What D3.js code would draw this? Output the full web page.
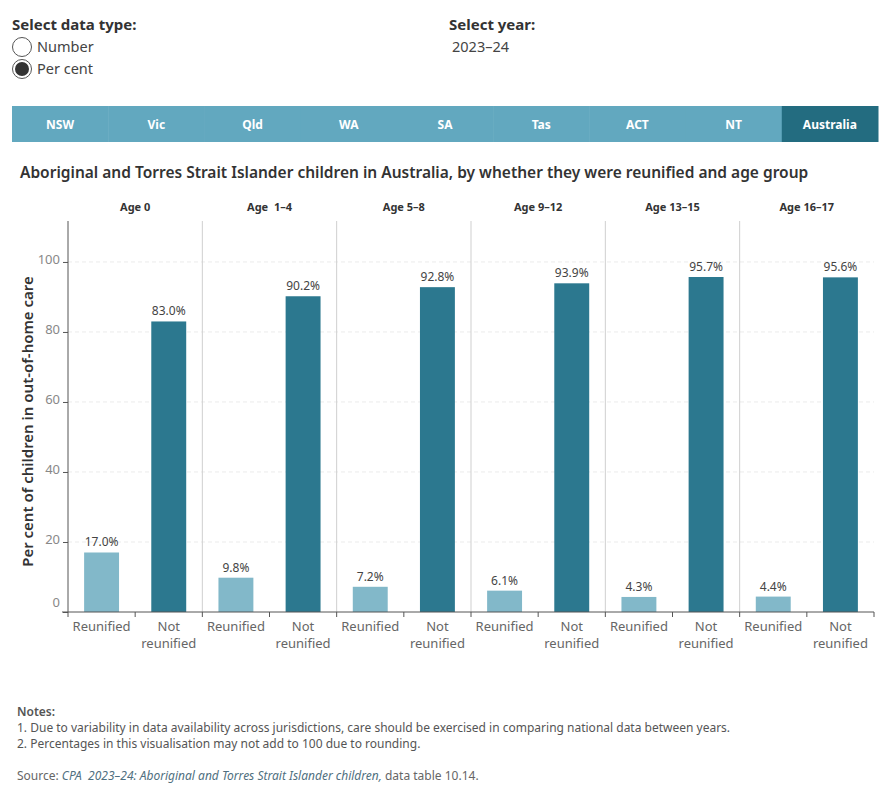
<!DOCTYPE html>
<html>
<head>
<meta charset="utf-8">
<script src="https://cdn.jsdelivr.net/npm/d3@7"></script>
<style>
  body { margin: 0; background: #fff; font-family: "Noto Sans", sans-serif; }
  svg text { font-family: "Noto Sans", sans-serif; }
</style>
</head>
<body>
<script>
// chart data
var ageGroups = ["Age 0", "Age  1\u20134", "Age 5\u20138", "Age 9\u201312", "Age 13\u201315", "Age 16\u201317"];
var statuses = ["Reunified", "Not reunified"];
var reunified = [17.0, 9.8, 7.2, 6.1, 4.3, 4.4];
var notReunified = [83.0, 90.2, 92.8, 93.9, 95.7, 95.6];
var yTicks = [0, 20, 40, 60, 80, 100];
var tabs = ["NSW", "Vic", "Qld", "WA", "SA", "Tas", "ACT", "NT", "Australia"];
var notes = [
  "1. Due to variability in data availability across jurisdictions, care should be exercised in comparing national data between years.",
  "2. Percentages in this visualisation may not add to 100 due to rounding."
];

var W = 890, H = 800;
var svg = d3.select("body").append("svg")
    .attr("width", W)
    .attr("height", H);

// controls at the top
svg.append("text").attr("x", 12).attr("y", 30)
  .attr("font-size", 15).attr("font-weight", 700).attr("fill", "#333")
  .text("Select data type:");
var radios = [{label: "Number", on: false}, {label: "Per cent", on: true}];
radios.forEach(function(r, i) {
  var cy = 47 + i * 22;
  svg.append("circle").attr("cx", 22).attr("cy", cy).attr("r", 9.5)
    .attr("fill", "#fff").attr("stroke", "#555").attr("stroke-width", 1);
  if (r.on) {
    svg.append("circle").attr("cx", 22).attr("cy", cy).attr("r", 7)
      .attr("fill", "#333");
  }
  svg.append("text").attr("x", 37).attr("y", cy + 5)
    .attr("font-size", 14.5).attr("fill", "#444").text(r.label);
});
svg.append("text").attr("x", 449).attr("y", 30)
  .attr("font-size", 15).attr("font-weight", 700).attr("fill", "#333")
  .text("Select year:");
svg.append("text").attr("x", 452).attr("y", 52)
  .attr("font-size", 14.5).attr("fill", "#444").text("2023\u201324");

// state tabs
var tabX = d3.scaleBand().domain(tabs).range([12, 878]);
var tab = svg.selectAll(".tab").data(tabs).enter().append("g")
  .attr("class", "tab")
  .attr("transform", function(d) { return "translate(" + tabX(d) + ",106)"; });
tab.append("rect")
  .attr("width", tabX.bandwidth() + 0.5)
  .attr("height", 36)
  .attr("fill", function(d) { return d === "Australia" ? "#236c80" : "#62a8bf"; });
tab.append("text")
  .attr("x", tabX.bandwidth() / 2).attr("y", 23)
  .attr("text-anchor", "middle")
  .attr("font-size", 12).attr("font-weight", 700).attr("fill", "#fff")
  .text(function(d) { return d; });

// title
svg.append("text").attr("x", 20).attr("y", 178)
  .attr("font-size", 15.5).attr("font-weight", 600).attr("fill", "#333")
  .text("Aboriginal and Torres Strait Islander children in Australia, by whether they were reunified and age group");

// plot area
var plotLeft = 68, plotRight = 874, plotTop = 221, plotBottom = 612;
var x0 = d3.scaleBand().domain(ageGroups).range([plotLeft, plotRight]);
var x1 = d3.scaleBand().domain(statuses).range([0, x0.bandwidth()]).paddingInner(0.48).paddingOuter(0.24);
var y = d3.scaleLinear().domain([0, 111.7]).range([plotBottom, plotTop]);

var data = [];
ageGroups.forEach(function(a, i) {
  data.push({age: a, status: "Reunified", value: reunified[i]});
  data.push({age: a, status: "Not reunified", value: notReunified[i]});
});

// gridlines
svg.append("g").selectAll("line").data(yTicks.filter(function(t) { return t > 0; })).enter()
  .append("line")
  .attr("x1", plotLeft).attr("x2", plotRight)
  .attr("y1", function(d) { return y(d); }).attr("y2", function(d) { return y(d); })
  .attr("stroke", "#ebebeb").attr("stroke-dasharray", "4,3");

// panel separators
svg.append("g").selectAll("line").data(ageGroups.slice(1)).enter()
  .append("line")
  .attr("x1", function(d) { return x0(d); }).attr("x2", function(d) { return x0(d); })
  .attr("y1", plotTop).attr("y2", plotBottom)
  .attr("stroke", "#cfcfcf");

// panel headers
svg.append("g").selectAll("text").data(ageGroups).enter()
  .append("text")
  .attr("x", function(d) { return x0(d) + x0.bandwidth() / 2; })
  .attr("y", 211)
  .attr("text-anchor", "middle")
  .attr("font-size", 11).attr("font-weight", 700).attr("fill", "#333")
  .style("white-space", "pre")
  .text(function(d) { return d; });

// bars
svg.append("g").selectAll("rect").data(data).enter()
  .append("rect")
  .attr("x", function(d) { return x0(d.age) + x1(d.status); })
  .attr("width", x1.bandwidth())
  .attr("y", function(d) { return y(d.value); })
  .attr("height", function(d) { return plotBottom - y(d.value); })
  .attr("fill", function(d) { return d.status === "Reunified" ? "#82b8c9" : "#2c788f"; });

// value labels
svg.append("g").selectAll("text").data(data).enter()
  .append("text")
  .attr("x", function(d) { return x0(d.age) + x1(d.status) + x1.bandwidth() / 2; })
  .attr("y", function(d) { return y(d.value) - 6; })
  .attr("text-anchor", "middle")
  .attr("font-size", 12).attr("fill", "#444")
  .text(function(d) { return d.value.toFixed(1) + "%"; });

// y axis
var yAxis = svg.append("g")
  .attr("transform", "translate(" + plotLeft + ",0)")
  .call(d3.axisLeft(y).tickValues(yTicks).tickSize(5).tickSizeOuter(0));
yAxis.select(".domain").attr("stroke", "#555").attr("d", "M0," + plotTop + "V" + plotBottom);
yAxis.selectAll(".tick line").attr("stroke", "#555");
yAxis.selectAll(".tick text").attr("font-size", 13).attr("fill", "#888")
  .attr("font-family", "'Noto Sans', sans-serif")
  .attr("dy", function(d) { return d === 0 ? "-0.4em" : "0.1em"; });

svg.append("text")
  .attr("transform", "translate(33," + ((plotTop + plotBottom) / 2 + 5) + ") rotate(-90)")
  .attr("text-anchor", "middle")
  .attr("font-size", 15).attr("font-weight", 600).attr("fill", "#333")
  .text("Per cent of children in out-of-home care");

// x axis
svg.append("line")
  .attr("x1", plotLeft - 6).attr("x2", plotRight).attr("y1", plotBottom).attr("y2", plotBottom)
  .attr("stroke", "#555");
var tickPos = [];
ageGroups.forEach(function(a) {
  tickPos.push(x0(a));
  tickPos.push(x0(a) + x0.bandwidth() / 2);
});
tickPos.push(plotRight);
svg.append("g").selectAll("line").data(tickPos).enter()
  .append("line")
  .attr("x1", function(d) { return d; }).attr("x2", function(d) { return d; })
  .attr("y1", plotBottom).attr("y2", plotBottom + 5)
  .attr("stroke", "#555");

var xl = svg.append("g").selectAll("text").data(data).enter()
  .append("text")
  .attr("x", function(d) { return x0(d.age) + x1(d.status) + x1.bandwidth() / 2; })
  .attr("y", 631)
  .attr("text-anchor", "middle")
  .attr("font-size", 13).attr("fill", "#666");
xl.each(function(d) {
  var t = d3.select(this);
  if (d.status === "Reunified") {
    t.text("Reunified");
  } else {
    t.append("tspan").attr("x", t.attr("x")).attr("dy", 0).text("Not");
    t.append("tspan").attr("x", t.attr("x")).attr("dy", 17).text("reunified");
  }
});

// notes and source
svg.append("text").attr("x", 17).attr("y", 716)
  .attr("font-size", 12).attr("font-weight", 600).attr("fill", "#555").text("Notes:");
svg.selectAll(".note").data(notes).enter().append("text")
  .attr("class", "note")
  .attr("x", 17).attr("y", function(d, i) { return 732 + i * 16; })
  .attr("font-size", 12).attr("fill", "#555")
  .text(function(d) { return d; });
var src = svg.append("text").attr("x", 17).attr("y", 780)
  .attr("font-size", 12).attr("fill", "#666");
src.append("tspan").text("Source: ");
src.append("tspan").attr("font-style", "italic").attr("fill", "#4f6f80")
  .style("white-space", "pre")
  .text("CPA  2023\u201324: Aboriginal and Torres Strait Islander children,");
src.append("tspan").text(" data table 10.14.");
</script>
</body>
</html>
